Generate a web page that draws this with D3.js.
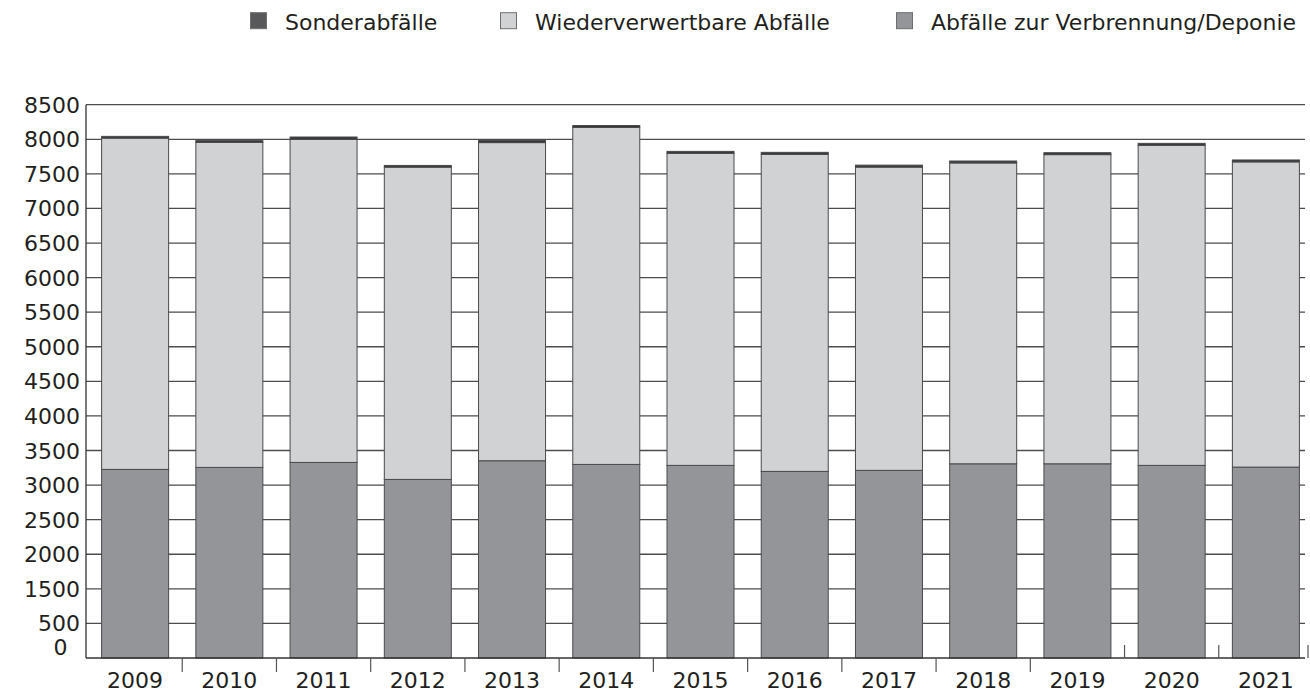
<!DOCTYPE html>
<html>
<head>
<meta charset="utf-8">
<script src="https://cdn.jsdelivr.net/npm/d3@7"></script>
<style>
  body { margin: 0; background: #fff; }
  text { font-family: "DejaVu Sans", Verdana, sans-serif; fill: #231f20; }
</style>
</head>
<body>
<div id="chart"></div>
<script>
// data
var years = ["2009","2010","2011","2012","2013","2014","2015","2016","2017","2018","2019","2020","2021"];
var verbrennung = [3227, 3256, 3328, 3082, 3352, 3299, 3285, 3198, 3213, 3308, 3308, 3285, 3260];
var wiederverwertbar = [4790, 4700, 4670, 4515, 4600, 4872, 4512, 4585, 4385, 4350, 4470, 4628, 4413];
var sonder = [25, 25, 35, 25, 30, 28, 28, 28, 28, 28, 28, 28, 28];
var yTicks = [1000, 1500, 2000, 2500, 3000, 3500, 4000, 4500, 5000, 5500, 6000, 6500, 7000, 7500, 8000, 8500];
var yTickLabels = ["500", "1500", "2000", "2500", "3000", "3500", "4000", "4500", "5000", "5500", "6000", "6500", "7000", "7500", "8000", "8500"];

var seriesNames = ["Sonderabfälle", "Wiederverwertbare Abfälle", "Abfälle zur Verbrennung/Deponie"];
var colors = {
  "Sonderabfälle": "#38383a",
  "Wiederverwertbare Abfälle": "#d1d2d4",
  "Abfälle zur Verbrennung/Deponie": "#939598"
};

var W = 1310, H = 697;
var plotLeft = 86, plotRight = 1305, plotTop = 104.7, plotBottom = 658;

var svg = d3.select("#chart").append("svg")
  .attr("width", W).attr("height", H);

var rows = years.map(function(yr, i) {
  return {
    year: yr,
    "Abfälle zur Verbrennung/Deponie": verbrennung[i],
    "Wiederverwertbare Abfälle": wiederverwertbar[i],
    "Sonderabfälle": sonder[i]
  };
});

var x = d3.scaleBand()
  .domain(years)
  .range([88, 1313])
  .paddingInner(0.289)
  .paddingOuter(0.1445);

// the axis starts a little above zero in the original, so clamp
var y = d3.scaleLinear()
  .domain([500, 8500])
  .range([plotBottom, plotTop])
  .clamp(true);

// gridlines
svg.append("g").selectAll("line")
  .data(yTicks)
  .enter().append("line")
    .attr("x1", plotLeft).attr("x2", plotRight)
    .attr("y1", function(d) { return y(d); })
    .attr("y2", function(d) { return y(d); })
    .attr("stroke", "#4d4d4f")
    .attr("stroke-width", 1.3);

// y labels
svg.append("g").selectAll("text")
  .data(yTicks)
  .enter().append("text")
    .attr("x", 80)
    .attr("y", function(d) { return y(d) + 8; })
    .attr("text-anchor", "end")
    .style("font-size", "22px")
    .text(function(d, i) { return yTickLabels[i]; });

svg.append("text")
  .attr("x", 60.5)
  .attr("y", plotBottom - 3)
  .attr("text-anchor", "middle")
  .style("font-size", "22px")
  .text("0");

// stacked bars
var stack = d3.stack()
  .keys(["Abfälle zur Verbrennung/Deponie", "Wiederverwertbare Abfälle", "Sonderabfälle"]);
var layers = stack(rows);

svg.append("g").selectAll("g")
  .data(layers)
  .enter().append("g")
    .attr("fill", function(d) { return colors[d.key]; })
  .selectAll("rect")
  .data(function(d) { return d; })
  .enter().append("rect")
    .attr("x", function(d) { return x(d.data.year); })
    .attr("y", function(d) { return y(d[1]); })
    .attr("width", x.bandwidth())
    .attr("height", function(d) { return y(d[0]) - y(d[1]); })
    .attr("stroke", "#4a4a4c")
    .attr("stroke-width", 1);

// axes lines
svg.append("line")
  .attr("x1", plotLeft).attr("x2", plotLeft)
  .attr("y1", plotTop).attr("y2", plotBottom)
  .attr("stroke", "#333").attr("stroke-width", 1.3);
svg.append("line")
  .attr("x1", plotLeft).attr("x2", plotRight)
  .attr("y1", plotBottom).attr("y2", plotBottom)
  .attr("stroke", "#333").attr("stroke-width", 1.5);

// category boundary ticks
var bounds = years.map(function(d) { return x(d) + x.bandwidth() + (x.step() - x.bandwidth()) / 2; });
svg.append("g").selectAll("line")
  .data(bounds)
  .enter().append("line")
    .attr("x1", function(d) { return Math.min(d, 1308); })
    .attr("x2", function(d) { return Math.min(d, 1308); })
    .attr("y1", function(d, i) { return i < 10 ? plotBottom : plotBottom - 13; })
    .attr("y2", function(d, i) { return i < 10 ? plotBottom + 14 : plotBottom; })
    .attr("stroke", "#555").attr("stroke-width", 1.2);

// year labels
svg.append("g").selectAll("text")
  .data(years)
  .enter().append("text")
    .attr("x", function(d) { return x(d) + x.bandwidth() / 2; })
    .attr("y", 688)
    .attr("text-anchor", "middle")
    .style("font-size", "22px")
    .text(function(d) { return d; });

// legend
var legendX = [250.5, 500.5, 896.5];
var legend = svg.append("g").selectAll("g")
  .data(seriesNames)
  .enter().append("g")
    .attr("transform", function(d, i) { return "translate(" + legendX[i] + ",12.7)"; });
legend.append("rect")
  .attr("width", 16).attr("height", 16)
  .attr("fill", function(d) { return d === "Sonderabfälle" ? "#58585a" : colors[d]; })
  .attr("stroke", "#6d6e70").attr("stroke-width", 1);
legend.append("text")
  .attr("x", 34.5)
  .attr("y", 17)
  .style("font-size", "22px")
  .text(function(d) { return d; });
</script>
</body>
</html>
